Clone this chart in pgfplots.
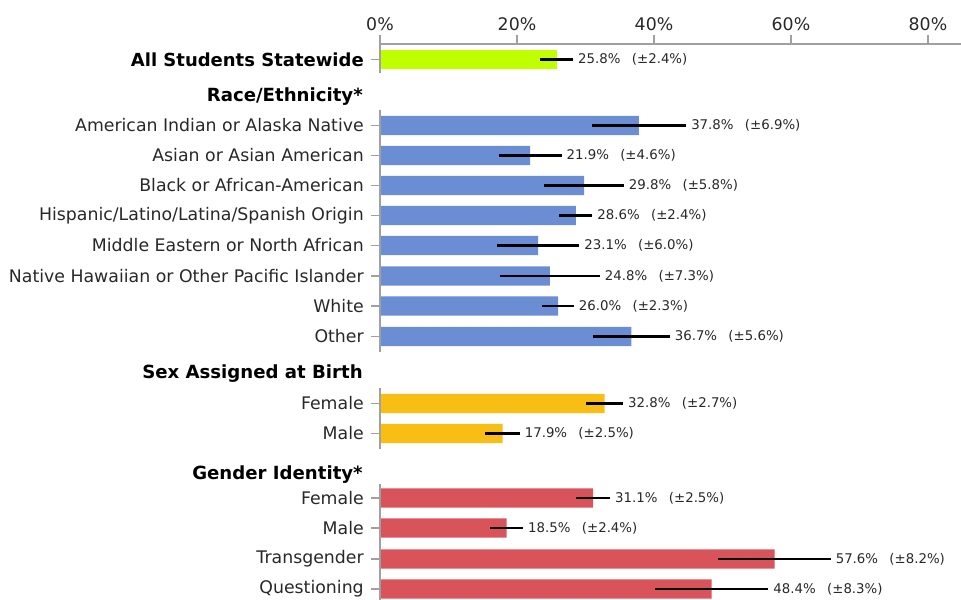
\documentclass[border=0pt]{standalone}
\usepackage{pgfplots}
\pgfplotsset{compat=1.18}
\usepackage{pgfplotstable}
\usepackage{fontspec}
\setmainfont{DejaVu Sans}

\definecolor{allgreen}{RGB}{191,255,0}
\definecolor{raceblue}{RGB}{106,141,212}
\definecolor{sexgold}{RGB}{249,190,20}
\definecolor{genred}{RGB}{217,83,90}
\definecolor{axgray}{RGB}{160,160,160}
\definecolor{txt}{RGB}{40,40,40}

% y = minus the row's pixel position, val = percent, err = +/- margin
\pgfplotstableread{
y val err
-59.5 25.8 2.4
}\allstud
\pgfplotstableread{
y val err
-125.5 37.8 6.9
-155.5 21.9 4.6
-185.5 29.8 5.8
-215.5 28.6 2.4
-245.5 23.1 6.0
-276.0 24.8 7.3
-306.0 26.0 2.3
-336.5 36.7 5.6
}\race
\pgfplotstableread{
y val err
-403.5 32.8 2.7
-433.5 17.9 2.5
}\sex
\pgfplotstableread{
y val err
-498.0 31.1 2.5
-528.0 18.5 2.4
-559.0 57.6 8.2
-589.0 48.4 8.3
}\gender

\newcommand{\pct}[1]{\pgfmathprintnumber[fixed,fixed zerofill,precision=1]{#1}}

\pgfplotsset{
  grpbar/.style={xbar, bar shift=0pt, bar width=14.6pt, draw=none, fill=#1,
    error bars/.cd, x dir=both, x explicit,
    error bar style={black, line width=1.7pt}, error mark=none},
  vallab/.style={draw=none, mark=none,
    visualization depends on={\thisrow{val} \as \myval},
    visualization depends on={\thisrow{err} \as \myerr},
    nodes near coords={\pct{\myval}\%\hspace{0.85em}(±\pct{\myerr}\%)},
    every node near coord/.style={anchor=west, inner sep=0pt, xshift=3.6pt,
      font=\fontsize{10}{12}\selectfont, text=txt}},
}

\begin{document}
\begin{tikzpicture}
\path[use as bounding box, clip] (0,0) rectangle (720.75pt,450pt);
\begin{axis}[
    at={(285pt,0pt)}, anchor=south west,
    scale only axis,
    width=435.75pt, height=417pt,
    xmin=0, xmax=84.82,
    ymin=-600, ymax=-44,
    clip=false,
    axis x line*=top,
    axis y line*=left,
    x axis line style={axgray, line width=0.8pt},
    y axis line style={draw=none},
    tick style={axgray, line width=0.8pt},
    tick align=outside,
    major tick length=6.75pt,
    xtick={0,20,40,60,80},
    xticklabel={\pgfmathprintnumber{\tick}\%},
    x tick label style={text=txt, font=\fontsize{13}{15}\selectfont},
    ytick={-59.5,-125.5,-155.5,-185.5,-215.5,-245.5,-276,-306,-336.5,
           -403.5,-433.5,-498,-528,-559,-589},
    yticklabels={{\color{black}\fontsize{13.5}{15}\selectfont\bfseries All Students Statewide},
      American Indian or Alaska Native, Asian or Asian American,
      Black or African-American, Hispanic/Latino/Latina/Spanish Origin,
      Middle Eastern or North African, Native Hawaiian or Other Pacific Islander,
      White, Other, Female, Male, Female, Male, Transgender, Questioning},
    y tick label style={text=txt, font=\fontsize{13}{15}\selectfont,
      anchor=east, inner sep=0pt, xshift=-5.25pt},
    /pgf/number format/assume math mode=true,
]
\addplot[grpbar=allgreen] table[x=val, y=y, x error=err] {\allstud};
\addplot[grpbar=raceblue] table[x=val, y=y, x error=err] {\race};
\addplot[grpbar=sexgold] table[x=val, y=y, x error=err] {\sex};
\addplot[grpbar=genred] table[x=val, y=y, x error=err] {\gender};

\addplot[vallab] table[x expr=\thisrow{val}+\thisrow{err}, y=y] {\allstud};
\addplot[vallab] table[x expr=\thisrow{val}+\thisrow{err}, y=y] {\race};
\addplot[vallab] table[x expr=\thisrow{val}+\thisrow{err}, y=y] {\sex};
\addplot[vallab] table[x expr=\thisrow{val}+\thisrow{err}, y=y] {\gender};

% left axis line, broken into one piece per group
\draw[axgray, line width=0.8pt] (axis cs:0,-44) -- (axis cs:0,-73);
\draw[axgray, line width=0.8pt] (axis cs:0,-110) -- (axis cs:0,-352);
\draw[axgray, line width=0.8pt] (axis cs:0,-388) -- (axis cs:0,-449);
\draw[axgray, line width=0.8pt] (axis cs:0,-484) -- (axis cs:0,-600);

% group headings
\begin{scope}[every node/.style={anchor=east, inner sep=0pt, text=black,
    font=\fontsize{13.6}{15}\selectfont\bfseries}]
\node at ([xshift=-12.75pt]axis cs:0,-97) {Race/Ethnicity*};
\node at ([xshift=-12.75pt]axis cs:0,-374) {Sex Assigned at Birth};
\node at ([xshift=-12.75pt]axis cs:0,-475) {Gender Identity*};
\end{scope}
\end{axis}
\end{tikzpicture}
\end{document}
